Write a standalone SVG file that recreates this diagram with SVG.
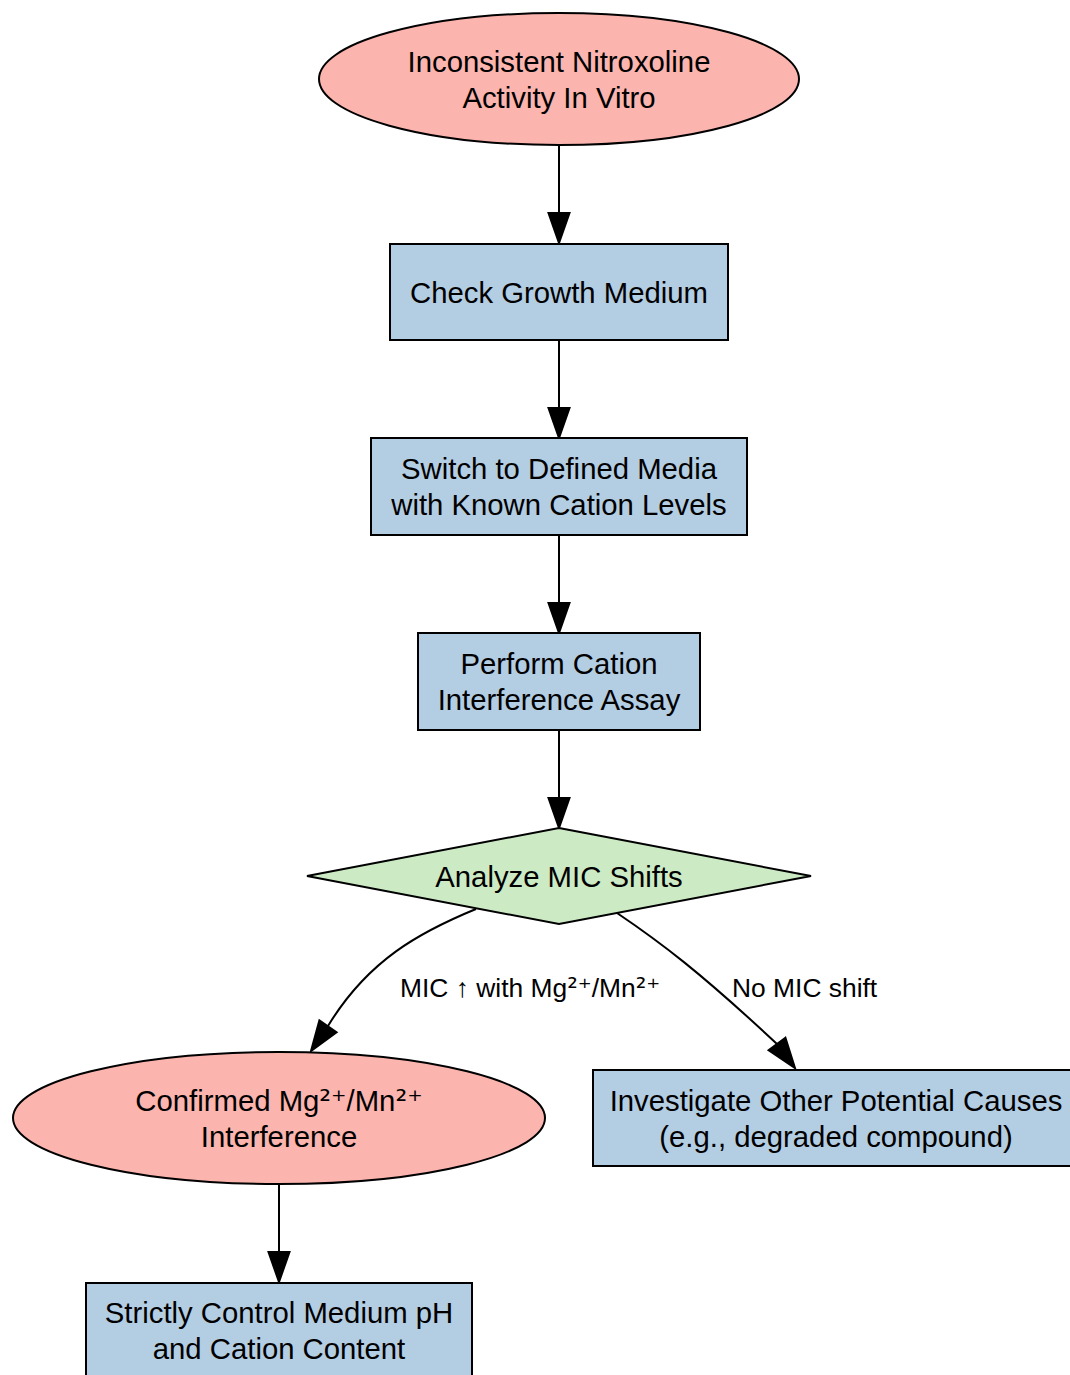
<svg xmlns="http://www.w3.org/2000/svg" width="1070" height="1375" viewBox="0 0 1070 1375">
<style>
.n{stroke:#000;stroke-width:2}
.pink{fill:#FBB4AE}.blue{fill:#B3CDE3}.green{fill:#CCEBC5}
text{font-family:"Liberation Sans",Arial,sans-serif;fill:#000;text-anchor:middle}
.t{font-size:29.3px}
.el{font-size:26.4px;text-anchor:start}
.s{font-family:"DejaVu Sans",sans-serif}
.e{fill:none;stroke:#000;stroke-width:2}
.h{fill:#000;stroke:#000;stroke-width:2}
</style>
<rect width="1070" height="1375" fill="#fff"/>
<g id="connectors">
<path class="e" d="M559,145 V213"/><polygon class="h" points="548.5,213 569.5,213 559,243"/>
<path class="e" d="M559,340 V408"/><polygon class="h" points="548.5,408 569.5,408 559,438"/>
<path class="e" d="M559,535 V603"/><polygon class="h" points="548.5,603 569.5,603 559,633"/>
<path class="e" d="M559,730 V798"/><polygon class="h" points="548.5,798 569.5,798 559,828"/>
<path class="e" d="M279,1184 V1252"/><polygon class="h" points="268.5,1252 289.5,1252 279,1282"/>
<path class="e" d="M476,909 C420,932 368,960 328,1026"/><polygon class="h" points="336.6,1032.3 319.4,1020.3 311,1051"/>
<path class="e" d="M617,913 C660,942 700,972 777,1044"/><polygon class="h" points="785.4,1037.7 768.6,1050.3 795,1068"/>
<text class="el" x="400" y="997">MIC ↑ with Mg<tspan class="s">²⁺</tspan>/Mn<tspan class="s">²⁺</tspan></text>
<text class="el" x="732" y="997">No MIC shift</text>
</g>
<g id="start"><ellipse class="n pink" cx="559" cy="79" rx="240" ry="66"/><text class="t" x="559" y="71.5">Inconsistent Nitroxoline</text><text class="t" x="559" y="107.5">Activity In Vitro</text></g>
<g id="check"><rect class="n blue" x="390" y="244" width="338" height="96"/><text class="t" x="559" y="302.5">Check Growth Medium</text></g>
<g id="switch"><rect class="n blue" x="371" y="438" width="376" height="97"/><text class="t" x="559" y="479">Switch to Defined Media</text><text class="t" x="559" y="515">with Known Cation Levels</text></g>
<g id="assay"><rect class="n blue" x="418" y="633" width="282" height="97"/><text class="t" x="559" y="674">Perform Cation</text><text class="t" x="559" y="710">Interference Assay</text></g>
<g id="analyze"><polygon class="n green" points="559,828 811,876 559,924 307,876"/><text class="t" x="559" y="886.5">Analyze MIC Shifts</text></g>
<g id="confirmed"><ellipse class="n pink" cx="279" cy="1118" rx="266" ry="66"/><text class="t" x="279" y="1110.5">Confirmed Mg<tspan class="s">²⁺</tspan>/Mn<tspan class="s">²⁺</tspan></text><text class="t" x="279" y="1146.5">Interference</text></g>
<g id="other"><rect class="n blue" x="593" y="1070" width="486" height="96"/><text class="t" x="836" y="1110.5">Investigate Other Potential Causes</text><text class="t" x="836" y="1146.5">(e.g., degraded compound)</text></g>
<g id="control"><rect class="n blue" x="86" y="1283" width="386" height="97"/><text class="t" x="279" y="1323">Strictly Control Medium pH</text><text class="t" x="279" y="1359">and Cation Content</text></g>
</svg>
